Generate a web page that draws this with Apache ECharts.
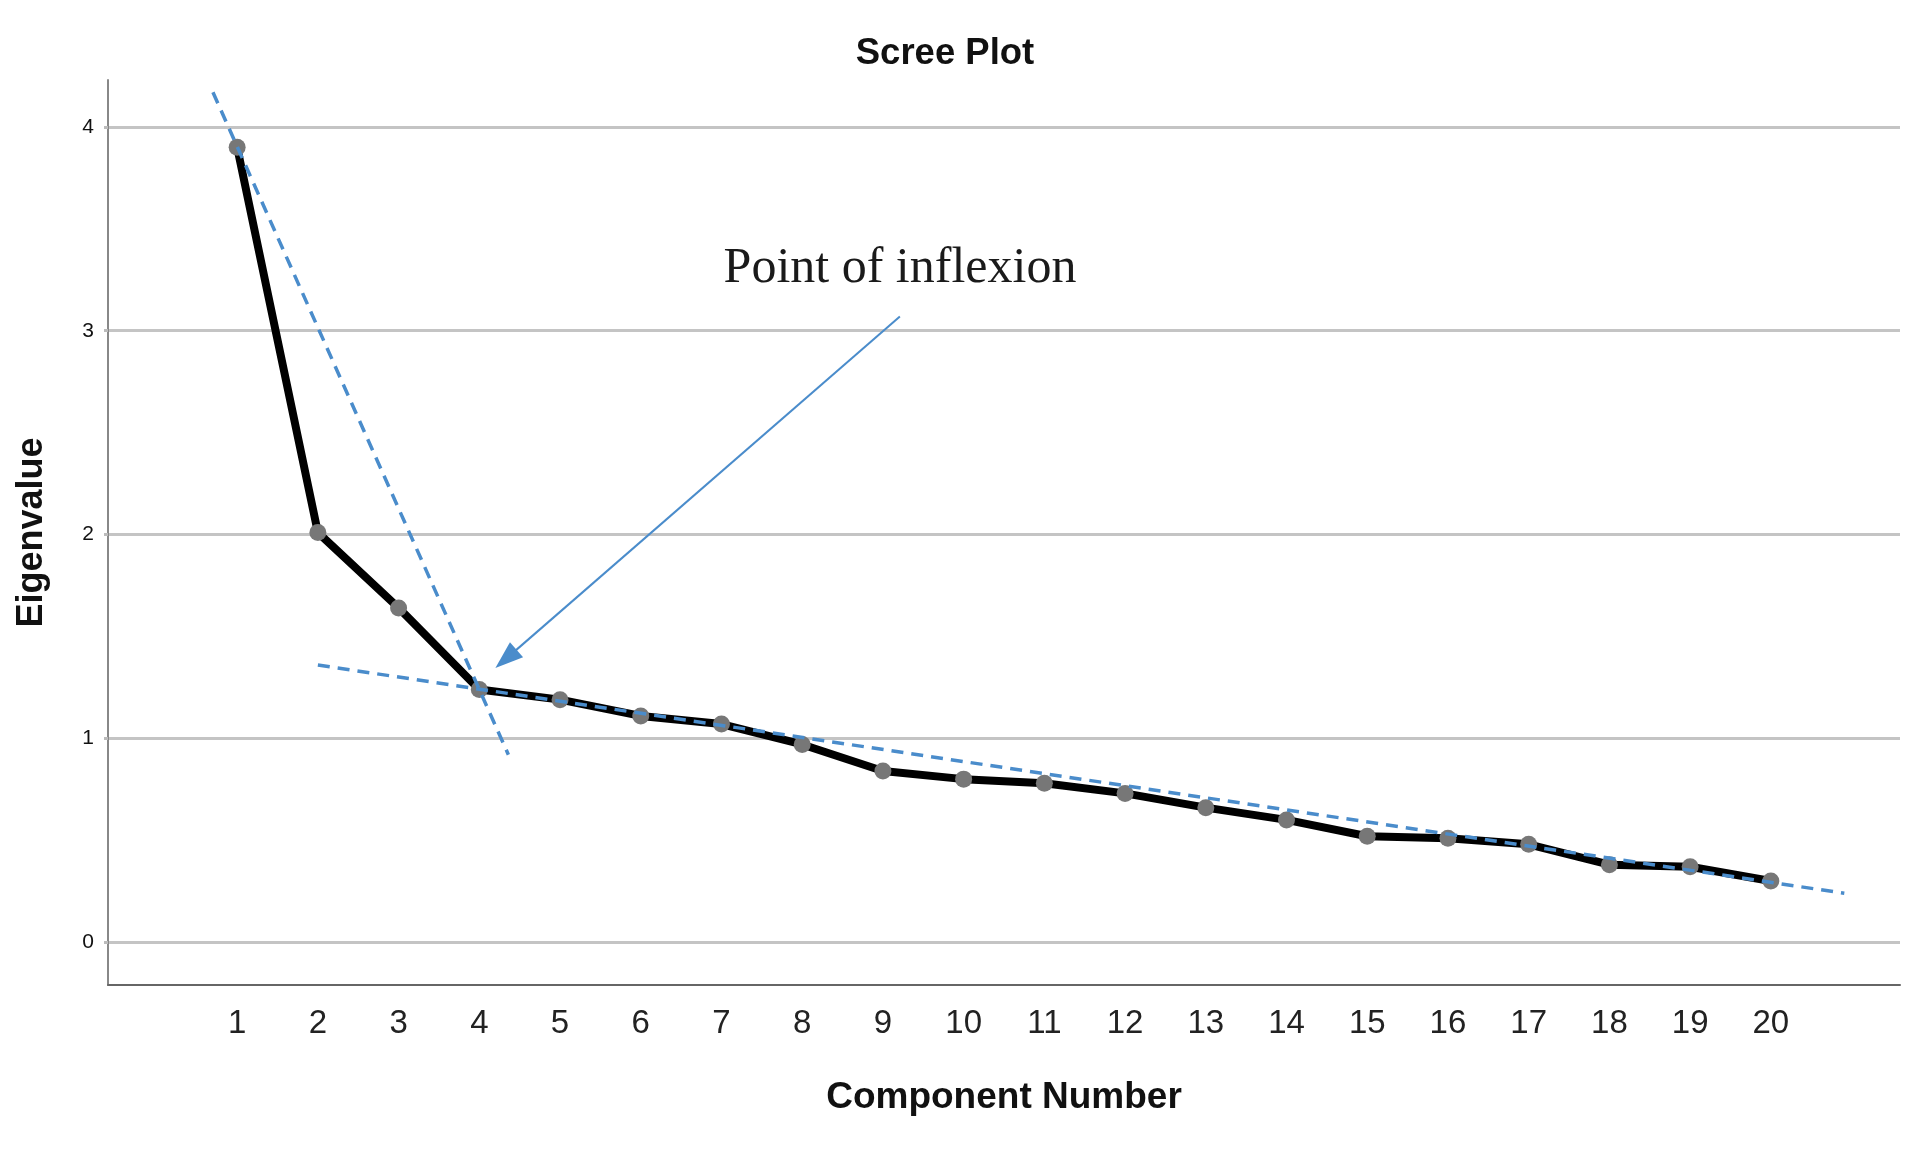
<!DOCTYPE html>
<html>
<head>
<meta charset="utf-8">
<title>Scree Plot</title>
<script src="https://cdn.jsdelivr.net/npm/echarts@6/dist/echarts.min.js"></script>
<style>
  html, body { margin: 0; padding: 0; background: #fff; }
  #main { width: 1925px; height: 1150px; }
</style>
</head>
<body>
<div id="main"></div>
<script>
// component numbers and eigenvalues
var components = [1, 2, 3, 4, 5, 6, 7, 8, 9, 10, 11, 12, 13, 14, 15, 16, 17, 18, 19, 20];
var eigenvalues = [3.90, 2.01, 1.64, 1.24, 1.19, 1.11, 1.07, 0.97, 0.84, 0.80,
                   0.78, 0.73, 0.66, 0.60, 0.52, 0.51, 0.48, 0.38, 0.37, 0.30];
var yTicks = [0, 1, 2, 3, 4];

// hand drawn guide lines (end points, in data units)
var steepLine = [[0.70, 4.17], [4.36, 0.92]];
var flatLine = [[2.00, 1.36], [20.91, 0.24]];
var arrowLine = [[9.21, 3.07], [4.33, 1.39]];

var chart = echarts.init(document.getElementById('main'));

var screeData = [];
for (var i = 0; i < components.length; i++) {
  screeData.push([components[i], eigenvalues[i]]);
}

var blue = '#4a8ccb';

var option = {
  backgroundColor: '#fff',
  animation: false,
  grid: { left: 108, right: 25, top: 80, bottom: 165 },
  xAxis: {
    type: 'value',
    min: -0.6,
    max: 21.6,
    name: 'Component Number',
    nameLocation: 'middle',
    nameGap: 94,
    nameTextStyle: { fontFamily: 'Liberation Sans, Arial', fontWeight: 'bold', fontSize: 37, color: '#111' },
    axisLine: { show: true, onZero: false, lineStyle: { color: '#666', width: 2 } },
    axisTick: { show: false },
    splitLine: { show: false },
    axisLabel: {
      customValues: components,
      margin: 22,
      fontFamily: 'Liberation Sans, Arial',
      fontSize: 33,
      color: '#222'
    }
  },
  yAxis: {
    type: 'value',
    min: -0.21,
    max: 4.23,
    name: 'Eigenvalue',
    nameLocation: 'middle',
    nameGap: 58,
    nameTextStyle: { fontFamily: 'Liberation Sans, Arial', fontWeight: 'bold', fontSize: 36, color: '#111' },
    axisLine: { show: true, onZero: false, lineStyle: { color: '#888', width: 2 } },
    axisTick: { show: true, customValues: yTicks, length: 4, lineStyle: { color: '#bbb', width: 3 } },
    splitLine: { show: true, lineStyle: { color: '#c4c4c4', width: 3 } },
    axisLabel: {
      customValues: yTicks,
      margin: 14,
      fontFamily: 'Liberation Sans, Arial',
      fontSize: 21,
      color: '#111'
    }
  },
  series: [
    {
      type: 'line',
      data: screeData,
      symbol: 'circle',
      symbolSize: 17,
      itemStyle: { color: '#777' },
      lineStyle: { color: '#000', width: 8 },
      z: 3
    },
    {
      type: 'line',
      data: steepLine,
      symbol: 'none',
      lineStyle: { color: blue, width: 3.5, type: [12, 8] },
      z: 4
    },
    {
      type: 'line',
      data: flatLine,
      symbol: 'none',
      lineStyle: { color: blue, width: 3.5, type: [12, 8] },
      z: 4
    },
    {
      type: 'line',
      data: [],
      symbol: 'none',
      markLine: {
        silent: true,
        symbol: ['none', 'triangle'],
        symbolSize: [20, 28],
        label: { show: false },
        lineStyle: { color: blue, width: 2, type: 'solid' },
        data: [[
          { coord: arrowLine[0] },
          { coord: arrowLine[1] }
        ]]
      },
      z: 5
    }
  ],
  graphic: [
    {
      type: 'text',
      style: {
        x: 945, y: 54,
        text: 'Scree Plot',
        textAlign: 'center',
        textVerticalAlign: 'middle',
        fontFamily: 'Liberation Sans, Arial',
        fontWeight: 'bold',
        fontSize: 36.5,
        fill: '#111'
      }
    },
    {
      type: 'text',
      style: {
        x: 900, y: 269,
        text: 'Point of inflexion',
        textAlign: 'center',
        textVerticalAlign: 'middle',
        fontFamily: 'Liberation Serif, Times New Roman, serif',
        fontSize: 50,
        fill: '#1a1a1a'
      }
    }
  ]
};

chart.setOption(option);
</script>
</body>
</html>
